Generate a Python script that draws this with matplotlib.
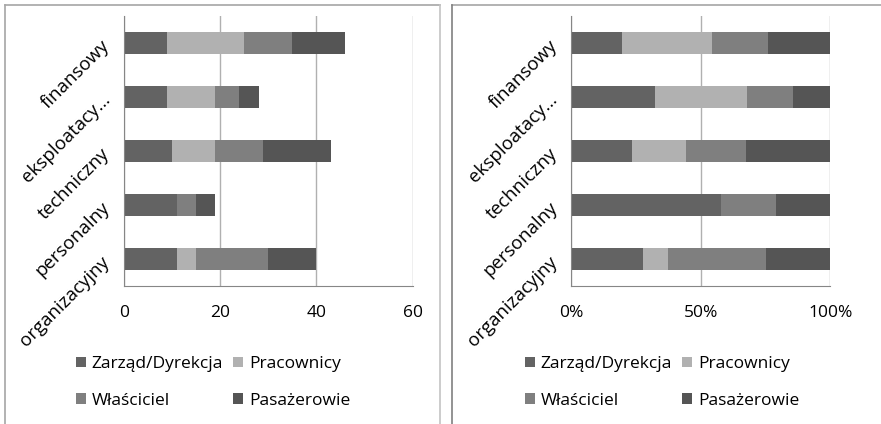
import numpy as np
import matplotlib.pyplot as plt
from matplotlib.lines import Line2D

plt.rcParams['font.family'] = ['Open Sans', 'DejaVu Sans']

# categories, bottom to top
categories = ['organizacyjny', 'personalny', 'techniczny', 'eksploatacy…', 'finansowy']
series = ['Zarząd/Dyrekcja', 'Pracownicy', 'Właściciel', 'Pasażerowie']
zarzad = [11, 11, 10, 9, 9]
pracownicy = [4, 0, 9, 10, 16]
wlasciciel = [15, 4, 10, 5, 10]
pasazerowie = [10, 4, 14, 4, 11]
colors = ['#636363', '#b1b1b1', '#7f7f7f', '#555555']

W, H = 881, 424
fig = plt.figure(figsize=(W / 100, H / 100), dpi=100)


def fx(px):
    return px / W


def fy(py):
    return 1 - py / H


# panel borders
def panel_line(x0, y0, x1, y1, c):
    fig.add_artist(Line2D([fx(x0), fx(x1)], [fy(y0), fy(y1)], color=c, lw=1.2,
                          transform=fig.transFigure))


panel_line(4.5, 5, 440, 5, '#a6a6a6')
panel_line(4.5, 5, 4.5, 430, '#a6a6a6')
panel_line(440, 5, 440, 430, '#c4c4c4')
panel_line(452, 5, 885, 5, '#a6a6a6')
panel_line(452, 5, 452, 430, '#808080')

data = np.array([zarzad, pracownicy, wlasciciel, pasazerowie], dtype=float)
y = np.arange(len(categories))


def draw(ax, vals, legend_x):
    left = np.zeros(len(categories))
    bars = []
    for i, name in enumerate(series):
        b = ax.barh(y, vals[i], left=left, height=0.39, color=colors[i], label=name,
                    edgecolor='none')
        bars.append(b)
        left += vals[i]
    ax.set_ylim(-0.5, len(categories) - 0.5)
    ax.set_yticks(y)
    ax.set_yticklabels(categories, rotation=45, ha='right', va='center',
                       rotation_mode='anchor', fontsize=13.5)
    ax.tick_params(axis='y', length=0, pad=12)
    ax.tick_params(axis='x', length=0, pad=14, labelsize=12.5)
    ax.grid(axis='x', color='#b0b0b0', lw=1)
    ax.set_axisbelow(True)
    for s in ['top', 'right']:
        ax.spines[s].set_visible(False)
    for s in ['left', 'bottom']:
        ax.spines[s].set_color('#868686')
    # legend fills column by column: reorder so rows read as in the original
    order = [0, 2, 1, 3]
    ax.legend([bars[i] for i in order], [series[i] for i in order],
              loc='upper left', bbox_to_anchor=(fx(legend_x), fy(356)),
              bbox_transform=fig.transFigure, ncol=2, frameon=False,
              fontsize=12.5, handlelength=0.55, handleheight=0.55,
              handletextpad=0.35, labelspacing=1.2, columnspacing=0.6,
              borderpad=0, borderaxespad=0)


ax1 = fig.add_axes([fx(123.7), fy(286), fx(412.7) - fx(123.7), 270 / H])
draw(ax1, data, 76)
ax1.set_xlim(0, 60)
ax1.set_xticks([0, 20, 40, 60])

ax2 = fig.add_axes([fx(571.3), fy(286), fx(830.3) - fx(571.3), 270 / H])
draw(ax2, data / data.sum(axis=0), 525)
ax2.set_xlim(0, 1)
ax2.set_xticks([0, 0.5, 1])
ax2.set_xticklabels(['0%', '50%', '100%'])

fig.savefig('out.png', dpi=100)
